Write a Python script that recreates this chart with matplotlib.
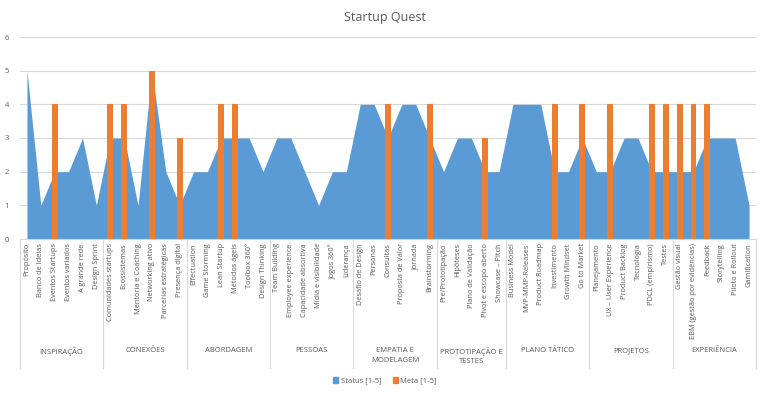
import matplotlib
matplotlib.use("Agg")
import matplotlib.pyplot as plt
import matplotlib.transforms as mtransforms
from matplotlib.patches import Patch
import numpy as np

groups = ["INSPIRAÇÃO", "CONEXÕES", "ABORDAGEM", "PESSOAS", "EMPATIA E\nMODELAGEM",
          "PROTOTIPAÇÃO E\nTESTES", "PLANO TÁTICO", "PROJETOS", "EXPERIÊNCIA"]
group_sizes = [6, 6, 6, 6, 6, 5, 6, 6, 6]

categories = [
    "Propósito", "Banco de Ideias", "Eventos Startups", "Eventos variados", "A grande rede", "Design Sprint",
    "Comunidades startups", "Ecossistemas", "Mentoria e Coaching", "Networking ativo", "Parcerias estratégicas", "Presença digital",
    "Effectuation", "Game Storming", "Lean Startup", "Métodos ágeis", "Toolbox 360°", "Design Thinking",
    "Team Building", "Employee experience", "Capacidade absortiva", "Mídia e visibilidade", "Jogos 360°", "Liderança",
    "Desafio de Design", "Personas", "Consultas", "Proposta de Valor", "Jornada", "Brainstorming",
    "Pre/Prototipação", "Hipóteses", "Plano de Validação", "Pivot e escopo aberto", "Showcase – Pitch",
    "Business Model", "MVP-MMP-Releases", "Product Roadmap", "Investimento", "Growth Mindset", "Go to Market",
    "Planejamento", "UX – User Experience", "Product Backlog", "Tecnologia", "PDCL (empirismo)", "Testes",
    "Gestão visual", "EBM (gestão por evidências)", "Feedback", "Storytelling", "Piloto e Rollout", "Gamification",
]

status = [5, 1, 2, 2, 3, 1,
          3, 3, 1, 5, 2, 1,
          2, 2, 3, 3, 3, 2,
          3, 3, 2, 1, 2, 2,
          4, 4, 3, 4, 4, 3,
          2, 3, 3, 2, 2,
          4, 4, 4, 2, 2, 3,
          2, 2, 3, 3, 2, 2,
          2, 2, 3, 3, 3, 1]

meta = [0, 0, 4, 0, 0, 0,
        4, 4, 0, 5, 0, 3,
        0, 0, 4, 4, 0, 0,
        0, 0, 0, 0, 0, 0,
        0, 0, 4, 0, 0, 4,
        0, 0, 0, 3, 0,
        0, 0, 0, 4, 0, 4,
        0, 4, 0, 0, 4, 4,
        4, 4, 4, 0, 0, 0]

FONT = ["Open Sans", "DejaVu Sans"]
plt.rcParams['font.family'] = FONT
TXT = "#595959"

fig = plt.figure(figsize=(7.69, 3.98), dpi=100)
ax = fig.add_axes([20/769, 1-239/398, (756-20)/769, (239-37)/398])

x = np.arange(len(categories))
ax.fill_between(x, status, 0, color="#5B9BD5", linewidth=0, zorder=2, label="Status [1-5]")
ax.bar(x, meta, width=0.42, color="#ED7D31", zorder=3, label="Meta [1-5]")

ax.set_xlim(-0.5, len(categories) - 0.5)
ax.set_ylim(0, 6)
ax.set_yticks(range(7))
ax.yaxis.grid(True, color="#d9d9d9", linewidth=0.8, zorder=0)
ax.set_axisbelow(True)
for s in ["top", "right", "left"]:
    ax.spines[s].set_visible(False)
ax.spines["bottom"].set_color("#d9d9d9")
ax.tick_params(axis="y", length=0, labelsize=5.5, labelcolor=TXT, pad=8)
ax.set_xticks(x)
ax.set_xticklabels(categories, rotation=90, fontsize=5.3, color=TXT)
ax.tick_params(axis="x", length=0, pad=3)

trans = mtransforms.blended_transform_factory(ax.transData, ax.transAxes)
bottom_y = (239 - 368) / 202
bounds = np.concatenate([[0], np.cumsum(group_sizes)]) - 0.5
for b in bounds:
    ax.plot([b, b], [0, bottom_y], transform=trans, color="#d9d9d9", linewidth=0.8, clip_on=False)
for i, g in enumerate(groups):
    cx = (bounds[i] + bounds[i + 1]) / 2
    ax.text(cx, (239 - 347) / 202, g, transform=trans, ha="center", va="top",
            fontsize=5.5, color=TXT, linespacing=1.5)

fig.text(385/769, 1-17/398, "Startup Quest", ha="center", va="center", fontsize=9, color=TXT)

handles = [Patch(color="#5B9BD5", label="Status [1-5]"), Patch(color="#ED7D31", label="Meta [1-5]")]
fig.legend(handles=handles, loc="center", bbox_to_anchor=(385/769, 1-381/398), ncol=2, frameon=False,
           fontsize=5.5, labelcolor=TXT, handlelength=0.7, handleheight=0.7, handletextpad=0.3, columnspacing=1.5)

fig.savefig("out.png", dpi=100, facecolor="white")
